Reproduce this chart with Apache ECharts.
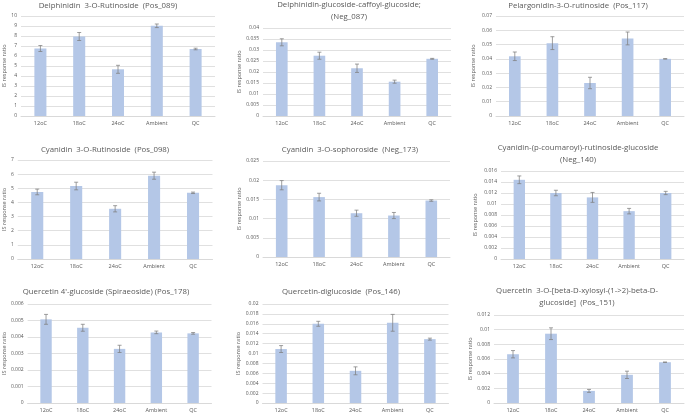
<!DOCTYPE html>
<html lang="en">
<head>
<meta charset="UTF-8">
<title>IS response ratio</title>
<script src="https://cdn.jsdelivr.net/npm/echarts@6/dist/echarts.min.js"></script>
<style>
  html, body { margin: 0; padding: 0; background: #fff; }
  #main { width: 685px; height: 415px; }
</style>
</head>
<body>
<div id="main"></div>
<script>
// categories and series values
var categories = ['12oC', '18oC', '24oC', 'Ambient', 'QC'];

var titles = [
  'Delphinidin  3-O-Rutinoside  (Pos_089)',
  'Delphinidin-glucoside-caffoyl-glucoside;\n(Neg_087)',
  'Pelargonidin-3-O-rutinoside  (Pos_117)',
  'Cyanidin  3-O-Rutinoside  (Pos_098)',
  'Cyanidin  3-O-sophoroside  (Neg_173)',
  'Cyanidin-(p-coumaroyl)-rutinoside-glucoside\n(Neg_140)',
  'Quercetin 4\'-glucoside (Spiraeoside) (Pos_178)',
  'Quercetin-diglucoside  (Pos_146)',
  'Quercetin  3-O-[beta-D-xylosyl-(1->2)-beta-D-\nglucoside]  (Pos_151)'
];

var pos089 = [6.75, 7.95, 4.67, 9.02, 6.70];
var pos089Err = [0.30, 0.40, 0.40, 0.18, 0.08];
var neg087 = [0.0335, 0.0274, 0.0217, 0.0156, 0.0260];
var neg087Err = [0.0016, 0.0016, 0.0019, 0.0007, 0.0002];
var pos117 = [0.0418, 0.0510, 0.0231, 0.0543, 0.0400];
var pos117Err = [0.0030, 0.0045, 0.0040, 0.0045, 0.0002];
var pos098 = [4.74, 5.16, 3.55, 5.89, 4.68];
var pos098Err = [0.20, 0.27, 0.22, 0.25, 0.05];
var neg173 = [0.0187, 0.0156, 0.0114, 0.0108, 0.0147];
var neg173Err = [0.0012, 0.0010, 0.0008, 0.0008, 0.0002];
var neg140 = [0.0144, 0.0120, 0.0112, 0.0087, 0.0120];
var neg140Err = [0.0007, 0.0005, 0.0009, 0.0005, 0.0003];
var pos178 = [0.00507, 0.00456, 0.00328, 0.00428, 0.00422];
var pos178Err = [0.00030, 0.00021, 0.00022, 0.00008, 0.00005];
var pos146 = [0.0109, 0.0160, 0.0065, 0.0162, 0.0129];
var pos146Err = [0.0007, 0.0005, 0.0008, 0.0017, 0.0002];
var pos151 = [0.00665, 0.00945, 0.00165, 0.00384, 0.00556];
var pos151Err = [0.0005, 0.0008, 0.0002, 0.0005, 0.00003];

// y axis max / tick step per panel
var yMax = [10, 0.04, 0.07, 7, 0.025, 0.016, 0.006, 0.02, 0.012];
var yStep = [1, 0.005, 0.01, 1, 0.005, 0.002, 0.001, 0.002, 0.002];

var values = [pos089, neg087, pos117, pos098, neg173, neg140, pos178, pos146, pos151];
var errors = [pos089Err, neg087Err, pos117Err, pos098Err, neg173Err, neg140Err, pos178Err, pos146Err, pos151Err];

// plot boxes [x0, x1, y0, y1]
var boxes = [
  [21, 215, 16, 116],
  [263, 451, 28, 116],
  [496, 684, 16, 116],
  [17.5, 212.5, 160, 259],
  [263, 450, 161, 257],
  [501, 684, 171, 259],
  [27.5, 211.5, 304, 403],
  [262.5, 448.5, 304, 403],
  [494, 684, 315, 403]
];
// title centre x, first line centre y
var titlePos = [
  [108, 6], [349, 5], [578, 6],
  [105, 150], [350, 150], [578, 148],
  [106, 292], [341, 292], [577, 291]
];
var nameGaps = [13.5, 20.5, 19.5, 10, 20.5, 22.5, 13, 20, 17.5];

var txt = '#595959';
var font = 'Open Sans';
var titleLine = 11.5;

var myChart = echarts.init(document.getElementById('main'));

var grids = [], xAxes = [], yAxes = [], series = [], graphics = [];

for (var i = 0; i < 9; i++) {
  var b = boxes[i];
  grids.push({ left: b[0], top: b[2], width: b[1] - b[0], height: b[3] - b[2] });
  xAxes.push({
    type: 'category', gridIndex: i, data: categories,
    axisLine: { lineStyle: { color: '#d9d9d9', width: 1 } },
    axisTick: { show: false },
    axisLabel: { color: txt, fontSize: 5.5, fontFamily: font, margin: 4, interval: 0 }
  });
  yAxes.push({
    type: 'value', gridIndex: i, min: 0, max: yMax[i], interval: yStep[i],
    name: 'IS response ratio', nameLocation: 'middle', nameGap: nameGaps[i],
    nameTextStyle: { color: txt, fontSize: 5.5, fontFamily: font },
    axisLine: { show: false }, axisTick: { show: false },
    splitLine: { lineStyle: { color: '#e0e0e0', width: 1 } },
    axisLabel: {
      color: txt, fontSize: 5, fontFamily: font, margin: 4,
      formatter: function (v) { return String(+v.toFixed(6)); }
    }
  });
  series.push({
    type: 'bar', xAxisIndex: i, yAxisIndex: i, data: values[i],
    barWidth: '31%',
    itemStyle: { color: '#b4c7e7' },
    silent: true
  });
  // error bars
  var errData = [];
  for (var j = 0; j < categories.length; j++) {
    errData.push([j, values[i][j] - errors[i][j], values[i][j] + errors[i][j]]);
  }
  series.push({
    type: 'custom', xAxisIndex: i, yAxisIndex: i, data: errData, silent: true, z: 5,
    renderItem: function (params, api) {
      var lo = api.coord([api.value(0), api.value(1)]);
      var hi = api.coord([api.value(0), api.value(2)]);
      var w = 2;
      var st = { stroke: '#7f7f7f', lineWidth: 0.75 };
      return {
        type: 'group',
        children: [
          { type: 'line', shape: { x1: hi[0], y1: hi[1], x2: lo[0], y2: lo[1] }, style: st },
          { type: 'line', shape: { x1: hi[0] - w, y1: hi[1], x2: hi[0] + w, y2: hi[1] }, style: st },
          { type: 'line', shape: { x1: lo[0] - w, y1: lo[1], x2: lo[0] + w, y2: lo[1] }, style: st }
        ]
      };
    }
  });
  // chart title, first line centred on titlePos
  graphics.push({
    type: 'text', x: titlePos[i][0], y: titlePos[i][1] - titleLine / 2,
    style: {
      text: titles[i], fill: txt, font: '7.8px "' + font + '"',
      textAlign: 'center', textVerticalAlign: 'top', lineHeight: titleLine
    }
  });
}

var option = {
  animation: false,
  backgroundColor: '#fff',
  grid: grids,
  xAxis: xAxes,
  yAxis: yAxes,
  series: series,
  graphic: graphics
};
myChart.setOption(option);
</script>
</body>
</html>
